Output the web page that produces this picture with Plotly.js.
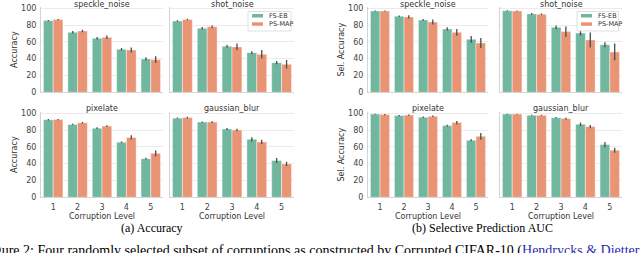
<!DOCTYPE html>
<html><head><meta charset="utf-8">
<script src="https://cdn.plot.ly/plotly-3.0.1.min.js"></script>
<style>html,body{margin:0;padding:0;background:#fff}#chart{width:640px;height:253px}</style>
</head><body><div id="chart"></div>
<script>
// ---------- data ----------
const levels = ['1', '2', '3', '4', '5'];
const methods = ['FS-EB', 'PS-MAP'];
const corruptions = ['speckle_noise', 'shot_noise', 'pixelate', 'gaussian_blur'];
const figureLabels = ['(a) Accuracy', '(b) Selective Prediction AUC'];
const yTitles = ['Accuracy', 'Sel. Accuracy'];
const xTitle = 'Corruption Level';
const yTicks = [0, 20, 40, 60, 80, 100];
const captionText = 'Figure 2: Four randomly selected subset of corruptions as constructed by Corrupted CIFAR-10 (';
const captionCite = 'Hendrycks & Dietterich';

// (a) Accuracy
const accSpeckleFSEB = [85.3, 71.4, 64.3, 51.2, 39.7];
const accSpeckleFSEBErr = [0.8, 1.5, 1.5, 1.5, 2];
const accSpecklePSMAP = [86.5, 73, 65.5, 50.4, 38.9];
const accSpecklePSMAPErr = [0.8, 1.5, 2, 3, 4];
const accShotFSEB = [84.8, 76.2, 54.8, 47.2, 35.3];
const accShotFSEBErr = [1, 1.5, 1.5, 1.5, 2];
const accShotPSMAP = [86.7, 78, 54, 45.2, 33.3];
const accShotPSMAPErr = [0.8, 1.5, 4, 5, 5];
const accPixelateFSEB = [92.3, 86.7, 82.3, 65.5, 46];
const accPixelateFSEBErr = [0.8, 0.8, 1, 1, 1];
const accPixelatePSMAP = [92.5, 88.7, 84.7, 71.2, 52.3];
const accPixelatePSMAPErr = [0.8, 0.8, 1, 2.5, 3.5];
const accGaussianFSEB = [94.2, 89.5, 81.3, 69, 43.7];
const accGaussianFSEBErr = [0.8, 0.8, 1.2, 2.5, 3];
const accGaussianPSMAP = [95, 89.5, 80.2, 65.9, 39.7];
const accGaussianPSMAPErr = [0.8, 1, 1.5, 2.5, 2.5];

// (b) Selective prediction AUC
const selSpeckleFSEB = [96.8, 90.5, 86.1, 75.4, 63.1];
const selSpeckleFSEBErr = [0.6, 1, 1, 2, 4];
const selSpecklePSMAP = [96.8, 89.7, 83.7, 71.4, 58.7];
const selSpecklePSMAPErr = [0.6, 2, 3, 4, 6];
const selShotFSEB = [97, 93.3, 77.4, 70.6, 56.7];
const selShotFSEBErr = [0.6, 1, 2, 3, 3];
const selShotPSMAP = [96.8, 92.9, 72.2, 62.3, 48];
const selShotPSMAPErr = [0.6, 1, 6, 9, 10];
const selPixelateFSEB = [99, 97.2, 95.2, 85.3, 67.9];
const selPixelateFSEBErr = [0.5, 0.8, 0.8, 1, 1.2];
const selPixelatePSMAP = [98.4, 97.8, 96.4, 88.9, 72.6];
const selPixelatePSMAPErr = [0.8, 0.8, 0.8, 2, 4];
const selGaussianFSEB = [99, 97.5, 94.8, 86.9, 62.7];
const selGaussianFSEBErr = [0.5, 0.6, 0.8, 2, 3];
const selGaussianPSMAP = [99, 97.5, 93.7, 84.1, 56];
const selGaussianPSMAPErr = [0.5, 0.6, 1, 2, 3];

// ---------- assemble ----------
const figValues = [
  [[accSpeckleFSEB, accSpecklePSMAP], [accShotFSEB, accShotPSMAP], [accPixelateFSEB, accPixelatePSMAP], [accGaussianFSEB, accGaussianPSMAP]],
  [[selSpeckleFSEB, selSpecklePSMAP], [selShotFSEB, selShotPSMAP], [selPixelateFSEB, selPixelatePSMAP], [selGaussianFSEB, selGaussianPSMAP]]
];
const figErrors = [
  [[accSpeckleFSEBErr, accSpecklePSMAPErr], [accShotFSEBErr, accShotPSMAPErr], [accPixelateFSEBErr, accPixelatePSMAPErr], [accGaussianFSEBErr, accGaussianPSMAPErr]],
  [[selSpeckleFSEBErr, selSpecklePSMAPErr], [selShotFSEBErr, selShotPSMAPErr], [selPixelateFSEBErr, selPixelatePSMAPErr], [selGaussianFSEBErr, selGaussianPSMAPErr]]
];

const W = 640, H = 253;
const px = v => v / W;
const py = v => 1 - v / H;
const colors = ['#71b7a0', '#e99575'];
const cols = [[[41, 163], [170, 294]], [[368, 488], [500, 622]]];
const rows = [[7, 92.3], [112, 197.3]];
const titleY = [4.5, 108.3];
const figCenter = [152, 482];
const legendX = [[248, 291], [577, 618.5]];

const traces = [];
const layout = {
  width: W, height: H,
  margin: {l: 0, r: 0, t: 0, b: 0},
  paper_bgcolor: '#fff', plot_bgcolor: '#fff',
  font: {family: 'DejaVu Sans', size: 8, color: '#333'},
  barmode: 'group', bargap: 0.2, bargroupgap: 0,
  showlegend: false,
  annotations: [], shapes: []
};

for (let f = 0; f < 2; f++) {
  for (let p = 0; p < 4; p++) {
    const idx = f * 4 + p + 1;
    const r = Math.floor(p / 2), c = p % 2;
    const xs = cols[f][c];
    const ys = rows[r];
    layout['xaxis' + idx] = {
      domain: [px(xs[0]), px(xs[1])], anchor: 'y' + idx,
      range: [-0.5, 4.5], type: 'category',
      showline: true, linecolor: '#d4d4d4', linewidth: 1,
      showgrid: false, zeroline: false,
      ticks: 'outside', ticklen: 2, tickcolor: 'rgba(0,0,0,0)',
      showticklabels: r === 1,
      tickfont: {size: 8, color: '#444'},
      title: r === 1 ? {text: xTitle, font: {size: 8, color: '#333'}, standoff: 0} : {text: ''},
      fixedrange: true
    };
    layout['yaxis' + idx] = {
      domain: [py(ys[1]), py(ys[0])], anchor: 'x' + idx,
      range: [0, 101.5],
      tickvals: yTicks,
      showline: true, linecolor: '#d4d4d4', linewidth: 1,
      showgrid: true, gridcolor: '#ebebeb', gridwidth: 1, zeroline: false,
      ticks: 'outside', ticklen: 2, tickcolor: 'rgba(0,0,0,0)',
      showticklabels: c === 0,
      tickfont: {size: 8, color: '#444'},
      title: c === 0 ? {text: yTitles[f], font: {size: 8, color: '#333'}, standoff: 2} : {text: ''},
      fixedrange: true
    };
    layout.annotations.push({
      xref: 'paper', yref: 'paper', x: px((xs[0] + xs[1]) / 2), y: py(titleY[r]),
      xanchor: 'center', yanchor: 'middle', showarrow: false,
      text: corruptions[p], font: {size: 8, color: '#333'}
    });
    for (let m = 0; m < 2; m++) {
      traces.push({
        type: 'bar', name: methods[m], x: levels, y: figValues[f][p][m],
        xaxis: 'x' + idx, yaxis: 'y' + idx,
        marker: {color: colors[m], line: {color: 'rgba(255,255,255,0.55)', width: 0.8}},
        error_y: {type: 'data', array: figErrors[f][p][m], color: '#4a4a4a', thickness: 1.3, width: 0},
        showlegend: false, hoverinfo: 'skip'
      });
    }
  }
  // legend (drawn box)
  const lx = legendX[f];
  layout.shapes.push({type: 'rect', xref: 'paper', yref: 'paper',
    x0: px(lx[0]), x1: px(lx[1]), y0: py(31), y1: py(11.5),
    line: {color: '#d8d8d8', width: 0.8}, fillcolor: 'rgba(255,255,255,0.85)'});
  const patchY = [[14, 17.5], [22.3, 25.8]];
  const textY = [15.8, 24.1];
  for (let m = 0; m < 2; m++) {
    layout.shapes.push({type: 'rect', xref: 'paper', yref: 'paper',
      x0: px(lx[0] + 4), x1: px(lx[0] + 15), y0: py(patchY[m][1]), y1: py(patchY[m][0]),
      line: {width: 0}, fillcolor: colors[m]});
    layout.annotations.push({xref: 'paper', yref: 'paper', x: px(lx[0] + 19), y: py(textY[m]),
      xanchor: 'left', yanchor: 'middle', showarrow: false, text: methods[m],
      font: {size: 6.5, color: '#333'}});
  }
  layout.annotations.push({xref: 'paper', yref: 'paper', x: px(figCenter[f]), y: py(228),
    xanchor: 'center', yanchor: 'middle', showarrow: false, text: figureLabels[f],
    font: {family: 'Liberation Serif', size: 12, color: '#000'}});
}
layout.annotations.push({xref: 'paper', yref: 'paper', x: px(-18.7), y: py(250.5),
  xanchor: 'left', yanchor: 'middle', showarrow: false,
  text: captionText + '<span style="color:#2a2ab0">' + captionCite + '</span>',
  font: {family: 'Liberation Serif', size: 14, color: '#000'}});

Plotly.newPlot('chart', traces, layout, {staticPlot: true, displayModeBar: false});
</script>
</body></html>
